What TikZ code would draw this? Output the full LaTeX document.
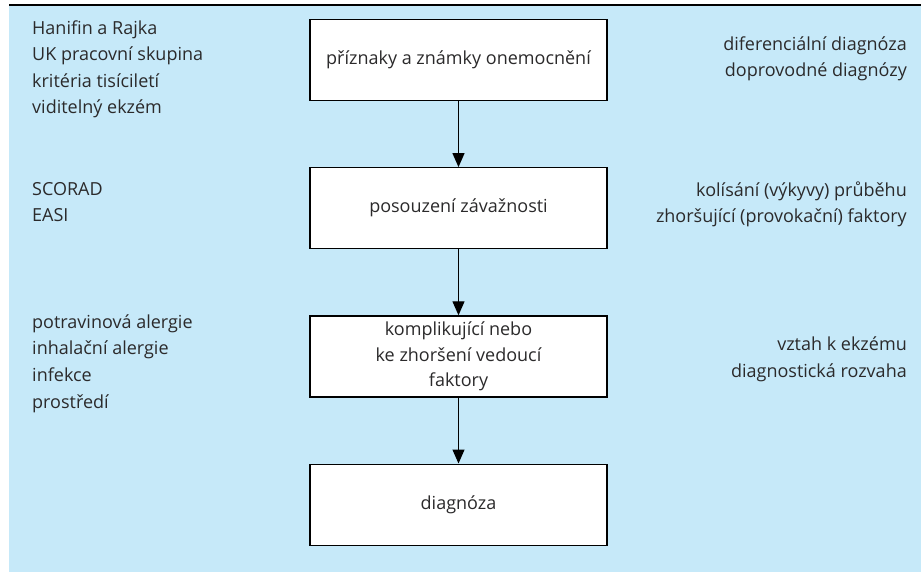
\documentclass[tikz,border=0pt]{standalone}
\usepackage{fontspec}
\setmainfont{Open Sans}
\usetikzlibrary{arrows.meta,positioning}
\definecolor{bgblue}{HTML}{C6E9F9}
\definecolor{ink}{HTML}{2B2A2B}

\begin{document}
\begin{tikzpicture}[x=1pt, y=-1pt,
        every node/.style={font=\fontsize{18}{26.6}\selectfont, text=ink},
        box/.style={draw=black, line width=1.2pt, fill=white, minimum width=297pt, minimum height=81pt, align=center, inner sep=0pt, font=\fontsize{18}{25.5}\selectfont},
        side/.style={inner sep=0pt},
        every edge/.style={draw, line width=1.2pt, -{Triangle[length=14pt,width=12pt]}},
        node distance=66pt
      ]
      \useasboundingbox (0,0) rectangle (921,572);
      \fill[bgblue] (9,6) rectangle (921,572);
      \draw[line width=2pt] (9,5) -- (921,5);

      \node [box] (a) at (458.5,60) {příznaky a známky onemocnění};
      \node [box, below=of a] (b) {posouzení závažnosti};
      \node [box, below=of b] (c) {komplikující nebo\\ke zhoršení vedoucí\\faktory};
      \node [box, below=of c] (d) {diagnóza};

      \path (a) edge (b);
      \path (b) edge (c);
      \path (c) edge (d);

      \node [side, anchor=base west, align=left] (l1) at (32,114) {Hanifin a Rajka\\UK pracovní skupina\\kritéria tisíciletí\\viditelný ekzém};
      \node [side, anchor=base west, align=left] (l2) at (32,222) {SCORAD\\EASI};
      \node [side, anchor=base west, align=left] (l3) at (32,408) {potravinová alergie\\inhalační alergie\\infekce\\prostředí};

      \node [side, anchor=base east, align=right] (r1) at (907,77) {diferenciální diagnóza\\doprovodné diagnózy};
      \node [side, anchor=base east, align=right] (r2) at (907,223) {kolísání (výkyvy) průběhu\\zhoršující (provokační) faktory};
      \node [side, anchor=base east, align=right] (r3) at (907,377) {vztah k ekzému\\diagnostická rozvaha};
    \end{tikzpicture}
\end{document}
